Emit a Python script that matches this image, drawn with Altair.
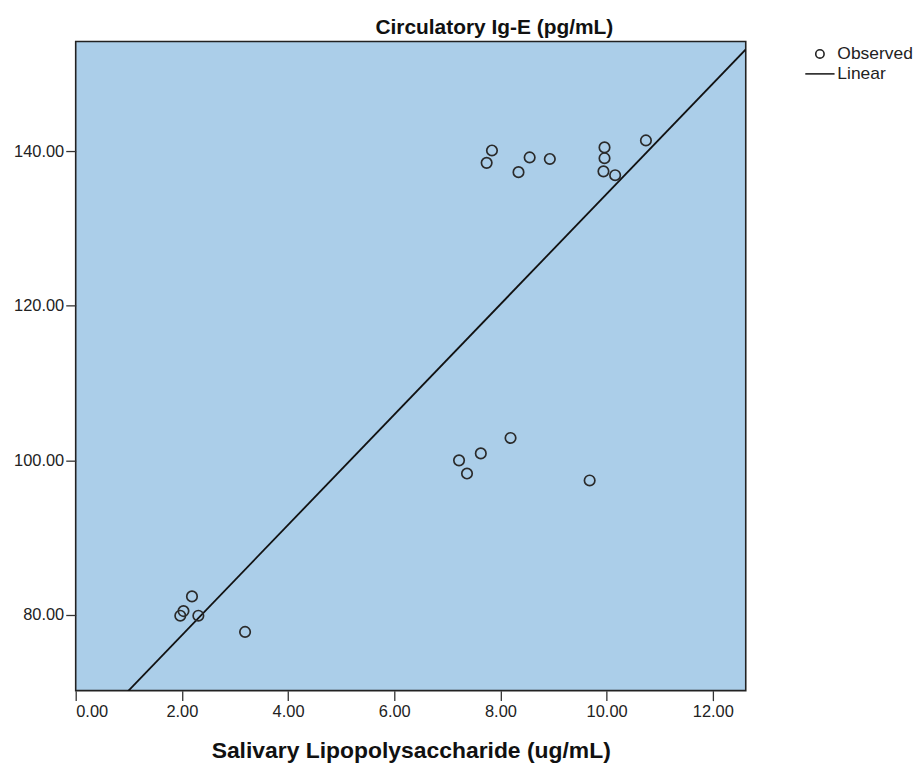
import altair as alt
import pandas as pd

# Salivary LPS (ug/mL) and circulatory IgE (pg/mL)
lps = [7.74, 7.84, 8.34, 8.55, 8.93, 9.96, 9.96, 9.94, 10.16, 10.74,
       7.22, 7.37, 7.63, 8.19, 9.68,
       2.19, 2.03, 1.97, 2.31, 3.19]
ige = [138.5, 140.1, 137.3, 139.2, 139.0, 140.5, 139.1, 137.4, 136.9, 141.4,
       100.0, 98.3, 100.9, 102.9, 97.4,
       82.4, 80.5, 79.9, 79.9, 77.8]
series = ["Observed", "Linear"]
x_ticks = [0, 2, 4, 6, 8, 10, 12]
y_ticks = [80, 100, 120, 140]
x_domain = [0, 12.62]
y_domain = [70.2, 154.2]

df = pd.DataFrame({"lps": lps, "ige": ige, "series": "Observed"})

sans = "Liberation Sans, Arial, sans-serif"
bg = "#abcee9"

circle_path = "M0.4,0 A0.4,0.4 0 1,1 -0.4,0 A0.4,0.4 0 1,1 0.4,0 Z"
line_path = "M-1.4,0 L1.4,0"

xscale = alt.Scale(domain=x_domain, nice=False, zero=False)
yscale = alt.Scale(domain=y_domain, nice=False, zero=False)

xaxis = alt.Axis(values=x_ticks, format=".2f", title="Salivary Lipopolysaccharide (ug/mL)",
                 grid=False, domain=False, tickColor="#333333", tickSize=10, tickWidth=1.3,
                 labelFont=sans, labelFontSize=16.5, labelColor="#222222", labelPadding=3,
                 titleFont=sans, titleFontSize=23, titleFontWeight="bold", titleColor="#111111",
                 titlePadding=20)
yaxis = alt.Axis(values=y_ticks, format=".2f", title=None,
                 grid=False, domain=False, tickColor="#333333", tickSize=10, tickWidth=1.3,
                 labelFont=sans, labelFontSize=16.5, labelColor="#222222", labelPadding=2)

points = alt.Chart(df).mark_point(filled=False, stroke="#2a2a2a", strokeWidth=1.7, size=690,
                                  opacity=1).encode(
    x=alt.X("lps:Q", scale=xscale, axis=xaxis),
    y=alt.Y("ige:Q", scale=yscale, axis=yaxis),
    shape=alt.Shape("series:N",
                    scale=alt.Scale(domain=series, range=[circle_path, line_path]),
                    legend=alt.Legend(title=None, orient="none", legendX=736, legendY=1,
                                      symbolSize=441, symbolStrokeColor="#222222",
                                      symbolFillColor="transparent", symbolStrokeWidth=1.6,
                                      labelFont=sans, labelFontSize=17.5, labelColor="#222222",
                                      labelOffset=6, rowPadding=0, padding=0)),
)

line = alt.Chart(df).transform_regression(
    "lps", "ige", extent=x_domain
).mark_line(color="#111111", strokeWidth=1.8, clip=True).encode(
    x=alt.X("lps:Q", scale=xscale, axis=xaxis),
    y=alt.Y("ige:Q", scale=yscale, axis=yaxis),
)

chart = alt.layer(line, points).properties(
    width=673, height=652,
    title=alt.TitleParams("Circulatory Ig-E (pg/mL)", font=sans, fontSize=21,
                          fontWeight="bold", color="#111111", anchor="middle", dx=84, offset=4),
    autosize=alt.AutoSizeParams(type="none"),
    padding={"left": 68, "top": 32, "right": 170, "bottom": 75},
).configure_view(
    fill=bg, stroke="#222222", strokeWidth=1.6
)

chart.save("out.html", embed_options={"renderer": "svg", "actions": False})
